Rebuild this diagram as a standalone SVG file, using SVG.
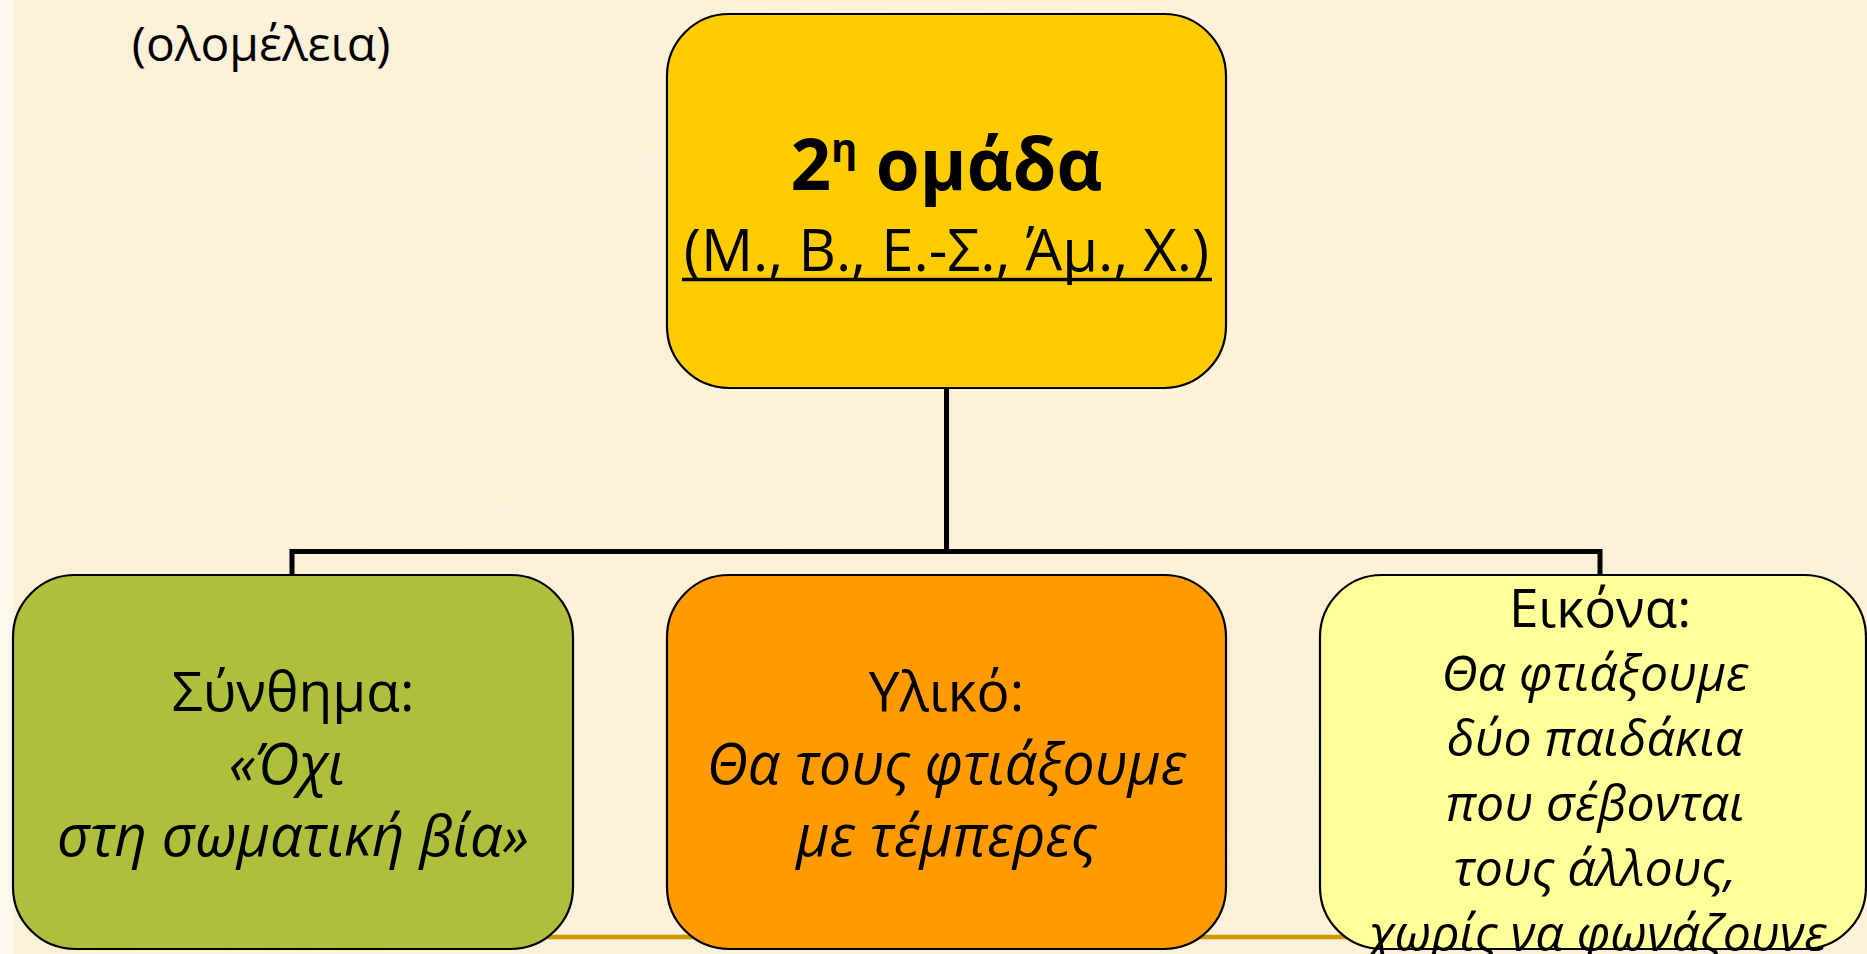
<svg xmlns="http://www.w3.org/2000/svg" width="1867" height="954" viewBox="0 0 1867 954">
<style>
.node rect{stroke:#000;stroke-width:2.2}
.t{font-family:"Open Sans","Noto Sans","DejaVu Sans",sans-serif;fill:#000;text-anchor:middle}
.i{font-style:italic}
.conn{stroke:#000;stroke-width:5;fill:none}
</style>
<defs>
<filter id="paper" x="0" y="0" width="100%" height="100%">
<feTurbulence type="fractalNoise" baseFrequency="0.015" numOctaves="3" seed="4" result="n"/>
<feColorMatrix in="n" type="matrix" values="0 0 0 0 0.93  0 0 0 0 0.86  0 0 0 0 0.70  0 0 0 0.35 -0.08"/>
</filter>
</defs>
<rect x="0" y="0" width="1867" height="954" fill="#FCF1D9"/>
<rect x="0" y="0" width="1867" height="954" filter="url(#paper)"/>
<rect x="0" y="0" width="13" height="954" fill="#FDF7EC"/>
<line x1="300" y1="937" x2="1600" y2="937" stroke="#CC9900" stroke-width="4.5"/>
<text class="t" x="261" y="61" font-size="48">(ολομέλεια)</text>
<g id="connectors">
<path class="conn" d="M946.5 388 V551.5"/>
<path class="conn" d="M292 575 V551.5 H1600 V575"/>
</g>
<g id="node-top" class="node">
<rect x="667" y="14" width="559" height="374" rx="62" ry="62" fill="#FFCC00"/>
<text class="t" x="946.5" y="190" font-size="71" font-weight="bold">2<tspan font-size="40" dy="-28">η</tspan><tspan dy="28"> ομάδα</tspan></text>
<text class="t" x="946.5" y="271" font-size="58">(Μ., Β., Ε.-Σ., Άμ., Χ.)</text>
<line x1="682" y1="279.5" x2="1212" y2="279.5" stroke="#000" stroke-width="3.5"/>
</g>
<g id="node-left" class="node">
<rect x="13" y="575" width="560" height="374" rx="62" ry="62" fill="#AEBF3B"/>
<text class="t" x="293" y="711" font-size="55">Σύνθημα:</text>
<text class="t i" x="287" y="784" font-size="57">«Όχι</text>
<text class="t i" x="293" y="856" font-size="57">στη σωματική βία»</text>
</g>
<g id="node-middle" class="node">
<rect x="667" y="575" width="559" height="374" rx="62" ry="62" fill="#FF9A00"/>
<text class="t" x="946.5" y="711" font-size="55">Υλικό:</text>
<text class="t i" x="946.5" y="784" font-size="57">Θα τους φτιάξουμε</text>
<text class="t i" x="946.5" y="856" font-size="57">με τέμπερες</text>
</g>
<g id="node-right" class="node">
<rect x="1320" y="575" width="546" height="374" rx="62" ry="62" fill="#FFFF99"/>
<text class="t" x="1600" y="627" font-size="53">Εικόνα:</text>
<text class="t i" x="1595" y="691" font-size="50">Θα φτιάξουμε</text>
<text class="t i" x="1595" y="756" font-size="50">δύο παιδάκια</text>
<text class="t i" x="1595" y="821" font-size="50">που σέβονται</text>
<text class="t i" x="1595" y="886" font-size="50">τους άλλους,</text>
<text class="t i" x="1598" y="951" font-size="50">χωρίς να φωνάζουνε</text>
</g>
</svg>
